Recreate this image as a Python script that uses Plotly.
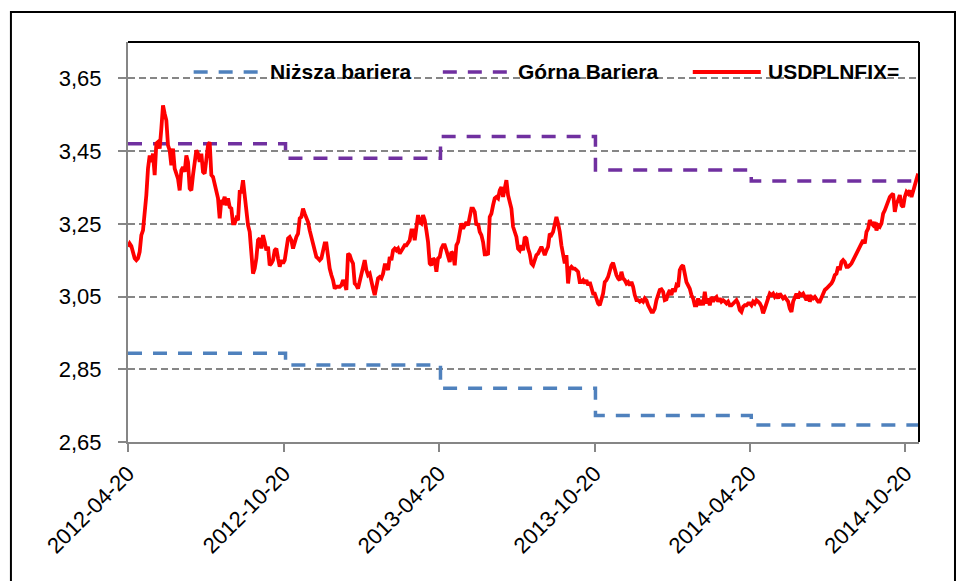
import plotly.graph_objects as go
import pandas as pd

# ---- data ----
usd_start = "2012-04-20"
usd_end = "2014-11-04"
# USDPLNFIX= sampled at regular intervals (approx. every 2 days) from start to end
usdplnfix = [
    # 2012-04 .. 2012-10
    3.187, 3.196, 3.189, 3.173, 3.155, 3.150, 3.155, 3.173, 3.219, 3.232,
    3.274, 3.329, 3.402, 3.438, 3.420, 3.443, 3.384, 3.471, 3.475, 3.457,
    3.512, 3.576, 3.553, 3.535, 3.466, 3.452, 3.411, 3.457, 3.402, 3.384,
    3.374, 3.342, 3.397, 3.406, 3.393, 3.438, 3.420, 3.347, 3.342, 3.384,
    3.429, 3.452, 3.443, 3.420, 3.443, 3.393, 3.388, 3.434, 3.466, 3.475,
    3.384, 3.379, 3.356, 3.338, 3.320, 3.265, 3.315, 3.310, 3.324, 3.301,
    3.320, 3.296, 3.292, 3.251, 3.251, 3.265, 3.260, 3.338, 3.338, 3.370,
    3.329, 3.265, 3.246, 3.228, 3.182, 3.113, 3.127, 3.155, 3.205, 3.210,
    3.182, 3.219, 3.200, 3.177, 3.187, 3.136, 3.141, 3.150, 3.177, 3.182,
    3.155, 3.132, 3.150, 3.141,
    # 2012-10 .. 2013-04
    3.150, 3.177, 3.210, 3.214, 3.205, 3.182, 3.200, 3.214, 3.223, 3.265,
    3.269, 3.292, 3.278, 3.265, 3.255, 3.232, 3.214, 3.187, 3.173, 3.159,
    3.155, 3.150, 3.155, 3.177, 3.196, 3.196, 3.150, 3.127, 3.109, 3.095,
    3.072, 3.077, 3.077, 3.077, 3.081, 3.095, 3.086, 3.068, 3.168, 3.164,
    3.150, 3.141, 3.086, 3.081, 3.072, 3.090, 3.113, 3.136, 3.150, 3.123,
    3.109, 3.113, 3.086, 3.072, 3.054, 3.081, 3.100, 3.104, 3.100, 3.113,
    3.136, 3.136, 3.123, 3.159, 3.150, 3.177, 3.182, 3.177, 3.182, 3.168,
    3.177, 3.182, 3.191, 3.191, 3.200, 3.205, 3.232, 3.232, 3.205, 3.246,
    3.274, 3.255, 3.251, 3.274, 3.260, 3.232, 3.200, 3.141, 3.136, 3.155,
    3.150, 3.118, 3.155, 3.159, 3.182, 3.191,
    # 2013-04 .. 2013-10
    3.191, 3.177, 3.155, 3.145, 3.173, 3.168, 3.136, 3.191, 3.200, 3.228,
    3.251, 3.237, 3.246, 3.255, 3.246, 3.265, 3.292, 3.292, 3.283, 3.246,
    3.251, 3.228, 3.219, 3.200, 3.166, 3.166, 3.168, 3.269, 3.278, 3.301,
    3.320, 3.324, 3.320, 3.342, 3.351, 3.324, 3.356, 3.370, 3.329, 3.310,
    3.292, 3.242, 3.228, 3.214, 3.182, 3.177, 3.191, 3.177, 3.214, 3.210,
    3.182, 3.168, 3.141, 3.136, 3.150, 3.164, 3.168, 3.177, 3.187, 3.177,
    3.164, 3.177, 3.187, 3.223, 3.219, 3.228, 3.251, 3.269, 3.251, 3.228,
    3.191, 3.168, 3.141, 3.164, 3.086, 3.127, 3.132, 3.127, 3.127, 3.123,
    3.118, 3.090, 3.090, 3.095, 3.086, 3.095, 3.081, 3.090, 3.072, 3.058,
    3.058, 3.040, 3.031, 3.026, 3.040, 3.058,
    # 2013-10 .. 2014-04
    3.090, 3.095, 3.104, 3.123, 3.136, 3.143, 3.123, 3.109, 3.100, 3.095,
    3.118, 3.100, 3.095, 3.086, 3.090, 3.081, 3.090, 3.077, 3.054, 3.040,
    3.040, 3.036, 3.040, 3.036, 3.045, 3.040, 3.026, 3.017, 3.008, 3.008,
    3.017, 3.040, 3.054, 3.068, 3.070, 3.063, 3.040, 3.042, 3.058, 3.068,
    3.054, 3.072, 3.063, 3.081, 3.077, 3.123, 3.132, 3.136, 3.113, 3.090,
    3.081, 3.072, 3.054, 3.045, 3.026, 3.026, 3.045, 3.026, 3.040, 3.026,
    3.063, 3.031, 3.045, 3.026, 3.049, 3.036, 3.045, 3.049, 3.036, 3.045,
    3.036, 3.040, 3.036, 3.031, 3.036, 3.026, 3.026, 3.031, 3.036, 3.040,
    3.031, 3.013, 3.008, 3.022, 3.026, 3.026, 3.031, 3.031, 3.026, 3.036,
    3.031, 3.040, 3.036,
    # 2014-04 .. 2014-11
    3.031, 3.022, 3.004, 3.017, 3.036, 3.045, 3.058, 3.054, 3.058, 3.049,
    3.054, 3.045, 3.058, 3.049, 3.045, 3.049, 3.040, 3.036, 3.017, 3.008,
    3.036, 3.049, 3.058, 3.045, 3.058, 3.054, 3.058, 3.049, 3.040, 3.054,
    3.036, 3.049, 3.045, 3.049, 3.040, 3.036, 3.036, 3.049, 3.058, 3.068,
    3.072, 3.077, 3.081, 3.086, 3.095, 3.109, 3.113, 3.132, 3.123, 3.145,
    3.150, 3.145, 3.132, 3.132, 3.136, 3.141, 3.150, 3.159, 3.168, 3.177,
    3.191, 3.200, 3.205, 3.196, 3.228, 3.237, 3.260, 3.251, 3.246, 3.255,
    3.232, 3.246, 3.242, 3.251, 3.278, 3.287, 3.301, 3.315, 3.324, 3.329,
    3.333, 3.283, 3.306, 3.315, 3.329, 3.301, 3.296, 3.324, 3.338, 3.333,
    3.342, 3.324, 3.342, 3.361, 3.374, 3.388,
]

barrier_dates = ["2012-04-20", "2012-10-22", "2013-04-22", "2013-10-21", "2014-04-22", "2014-11-04"]
gorna_bariera = [3.470, 3.430, 3.490, 3.398, 3.368, 3.368]
nizsza_bariera = [2.894, 2.862, 2.798, 2.723, 2.697, 2.697]

x_tick_dates = ["2012-04-20", "2012-10-20", "2013-04-20", "2013-10-20", "2014-04-20", "2014-10-20"]
y_tick_vals = [2.65, 2.85, 3.05, 3.25, 3.45, 3.65]
y_tick_text = ["2,65", "2,85", "3,05", "3,25", "3,45", "3,65"]

series_names = ["Niższa bariera", "Górna Bariera", "USDPLNFIX="]

usd_dates = pd.date_range(usd_start, usd_end, periods=len(usdplnfix))

FONT = "Liberation Sans"
GRID = "#868686"
COLORS = ["#4F81BD", "#7030A0", "#FF0000"]
DASHES = ["14px,11px", "14px,11px", "solid"]
WIDTHS = [3.5, 3.5, 3.8]

fig = go.Figure()
fig.add_trace(go.Scatter(
    x=barrier_dates, y=nizsza_bariera, mode="lines", name=series_names[0], showlegend=False,
    line=dict(color=COLORS[0], width=WIDTHS[0], dash=DASHES[0], shape="hv")))
fig.add_trace(go.Scatter(
    x=barrier_dates, y=gorna_bariera, mode="lines", name=series_names[1], showlegend=False,
    line=dict(color=COLORS[1], width=WIDTHS[1], dash=DASHES[1], shape="hv")))
fig.add_trace(go.Scatter(
    x=usd_dates, y=usdplnfix, mode="lines", name=series_names[2], showlegend=False,
    line=dict(color=COLORS[2], width=WIDTHS[2])))

# legend drawn as line samples + text (Excel style, top inside plot area)
legend_y = 0.925
legend_sample_x = [(0.083, 0.170), (0.398, 0.484), (0.714, 0.800)]
shapes = []
annotations = []
for name, col, dsh, w, (sx0, sx1) in zip(series_names, COLORS, DASHES, WIDTHS, legend_sample_x):
    shapes.append(dict(type="line", xref="paper", yref="paper", x0=sx0, x1=sx1,
                       y0=legend_y, y1=legend_y, line=dict(color=col, width=w, dash=dsh)))
    annotations.append(dict(text=name, xref="paper", yref="paper", x=sx1 + 0.007, y=legend_y,
                            xanchor="left", yanchor="middle", showarrow=False,
                            font=dict(family=FONT, size=21, color="black", weight="bold")))

shapes += [
    dict(type="line", xref="paper", yref="paper", x0=0, x1=1, y0=1, y1=1,
         line=dict(color="black", width=2)),
    dict(type="line", xref="paper", yref="paper", x0=1, x1=1, y0=0, y1=1,
         line=dict(color="black", width=2)),
    dict(type="rect", xref="paper", yref="paper", x0=-0.148, x1=1.0455, y0=-0.5, y1=1.075,
         line=dict(color="black", width=2), fillcolor="rgba(0,0,0,0)"),
]

fig.update_layout(
    width=957, height=581,
    margin=dict(l=128, r=38, t=42, b=139),
    paper_bgcolor="white", plot_bgcolor="white",
    font=dict(family=FONT, size=22, color="black"),
    showlegend=False,
    xaxis=dict(type="date", range=["2012-04-20", "2014-11-05"],
               tickvals=x_tick_dates, tickformat="%Y-%m-%d", tickangle=-45,
               ticks="outside", ticklen=8, tickwidth=2, tickcolor=GRID,
               showline=True, linecolor=GRID, linewidth=2, showgrid=False, zeroline=False,
               tickfont=dict(family=FONT, size=22, color="black")),
    yaxis=dict(range=[2.65, 3.75], tickvals=y_tick_vals, ticktext=y_tick_text,
               ticks="outside", ticklen=8, tickwidth=2, tickcolor=GRID,
               showline=True, linecolor=GRID, linewidth=2, zeroline=False,
               showgrid=True, gridcolor=GRID, gridwidth=2, griddash="7px,4px",
               ticklabelstandoff=12,
               tickfont=dict(family=FONT, size=22, color="black")),
    shapes=shapes,
    annotations=annotations,
)

fig.write_html("out.html",
               config={"displayModeBar": False},
               post_script="document.body.style.margin='0px';document.body.style.overflow='hidden';")
